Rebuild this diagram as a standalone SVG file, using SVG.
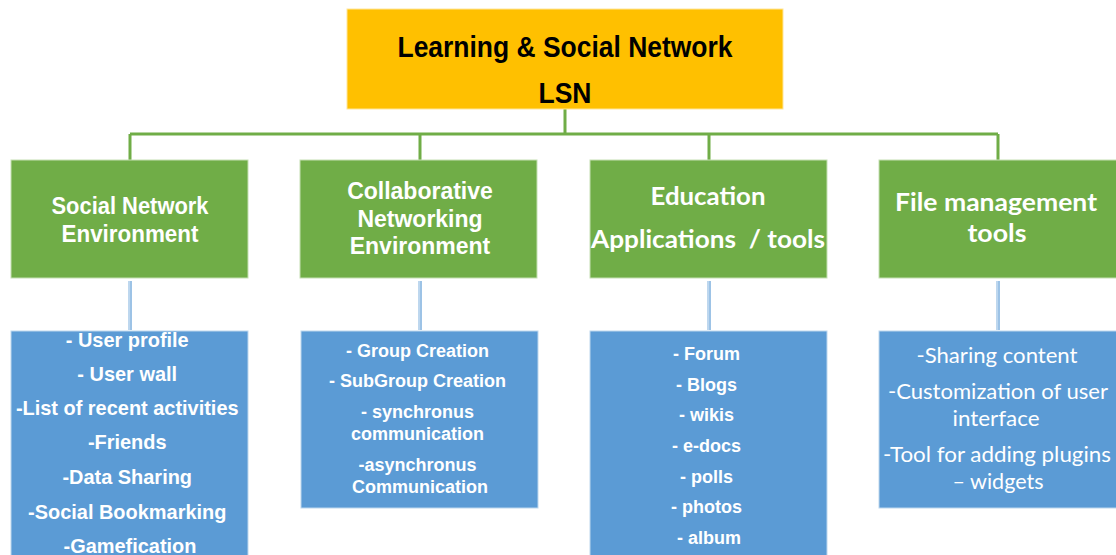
<svg xmlns="http://www.w3.org/2000/svg" width="1116" height="555" viewBox="0 0 1116 555">
<style>
.top{fill:#FFC000;stroke:#FFE699;stroke-width:1}
.grn{fill:#70AD47;stroke:#C5E0B4;stroke-width:1}
.blu{fill:#5B9BD5;stroke:#BDD7EE;stroke-width:1}
.conn{stroke:#70AD47;stroke-width:3;fill:none}
.bconn{stroke:#9DC3E6;stroke-width:4;fill:none}
.bhl{stroke:#DEEBF7;stroke-width:1;fill:none}
.nar{font-family:"Liberation Sans Narrow","Liberation Sans",Arial,sans-serif;font-weight:bold;text-anchor:middle}
.cal{font-family:Lato,"Open Sans",sans-serif;text-anchor:middle}
.w{fill:#FFFFFF}
</style>
<rect width="1116" height="555" fill="#FFFFFF"/>
<g id="connectors">
<path class="conn" d="M565 109V134M130 134H998M130 134V160M420 134V160M709 134V160M998 134V160"/>
<path class="bconn" d="M130 281V330M420 281V330M709 281V330M998 281V330"/>
<path class="bhl" d="M129 281V330M419 281V330M708 281V330M997 281V330"/>
</g>
<g id="root">
<rect class="top" x="347" y="9" width="436" height="100"/>
<text class="nar" x="565" y="57" font-size="29" fill="#000" textLength="335" lengthAdjust="spacingAndGlyphs">Learning &amp; Social Network</text>
<text class="nar" x="565" y="103" font-size="29" fill="#000" textLength="53" lengthAdjust="spacingAndGlyphs">LSN</text>
</g>
<g id="sne">
<rect class="grn" x="11" y="160" width="237" height="118"/>
<text class="nar w" x="130" y="214" font-size="23" textLength="157" lengthAdjust="spacingAndGlyphs">Social Network</text>
<text class="nar w" x="130" y="242" font-size="23" textLength="137" lengthAdjust="spacingAndGlyphs">Environment</text>
</g>
<g id="cne">
<rect class="grn" x="300" y="160" width="237" height="118"/>
<text class="nar w" x="420" y="199" font-size="23">Collaborative</text>
<text class="nar w" x="420" y="227" font-size="23">Networking</text>
<text class="nar w" x="420" y="254" font-size="23">Environment</text>
</g>
<g id="eat">
<rect class="grn" x="590" y="160" width="237" height="118"/>
<text class="cal w" x="708" y="205" font-size="24" font-weight="bold" textLength="115" lengthAdjust="spacingAndGlyphs">Education</text>
<text class="cal w" x="708" y="248" font-size="24" font-weight="bold" textLength="234" lengthAdjust="spacingAndGlyphs" xml:space="preserve">Applications  / tools</text>
</g>
<g id="fmt">
<rect class="grn" x="879" y="160" width="240" height="118"/>
<text class="cal w" x="996" y="211" font-size="24" font-weight="bold" textLength="202" lengthAdjust="spacingAndGlyphs">File management</text>
<text class="cal w" x="997" y="242" font-size="24" font-weight="bold" textLength="59" lengthAdjust="spacingAndGlyphs">tools</text>
</g>
<g id="sne-list">
<rect class="blu" x="11" y="331" width="237" height="230"/>
<text class="nar w" font-size="21" transform="matrix(0.95 0 0 1 6.5 0)">
<tspan x="130" y="347">- User profile</tspan>
<tspan x="130" y="381">- User wall</tspan>
<tspan x="130" y="415">-List of recent activities</tspan>
<tspan x="130" y="449">-Friends</tspan>
<tspan x="130" y="484">-Data Sharing</tspan>
<tspan x="130" y="519">-Social Bookmarking</tspan>
<tspan x="130" y="553">-Gamefication</tspan>
</text>
</g>
<g id="cne-list">
<rect class="blu" x="301" y="331" width="237" height="177"/>
<text class="nar w" font-size="18">
<tspan x="420" y="357">- Group Creation</tspan>
<tspan x="420" y="387">- SubGroup Creation</tspan>
<tspan x="420" y="418">- synchronus</tspan>
<tspan x="420" y="440">communication</tspan>
<tspan x="420" y="471">-asynchronus</tspan>
<tspan x="420" y="493">Communication</tspan>
</text>
</g>
<g id="eat-list">
<rect class="blu" x="590" y="331" width="237" height="230"/>
<text class="nar w" font-size="18">
<tspan x="709" y="360">- Forum</tspan>
<tspan x="709" y="391">- Blogs</tspan>
<tspan x="709" y="421">- wikis</tspan>
<tspan x="709" y="452">- e-docs</tspan>
<tspan x="709" y="483">- polls</tspan>
<tspan x="709" y="513">- photos</tspan>
<tspan x="709" y="544">- album</tspan>
</text>
</g>
<g id="fmt-list">
<rect class="blu" x="879" y="331" width="240" height="177"/>
<text class="cal w" x="997" y="363" font-size="21" textLength="161" lengthAdjust="spacingAndGlyphs">-Sharing content</text>
<text class="cal w" x="998" y="399" font-size="21" textLength="220" lengthAdjust="spacingAndGlyphs">-Customization of user</text>
<text class="cal w" x="996" y="426" font-size="21" textLength="87" lengthAdjust="spacingAndGlyphs">interface</text>
<text class="cal w" x="997" y="462" font-size="21" textLength="228" lengthAdjust="spacingAndGlyphs">-Tool for adding plugins</text>
<text class="cal w" x="998" y="489" font-size="21" textLength="91" lengthAdjust="spacingAndGlyphs">– widgets</text>
</g>
</svg>
